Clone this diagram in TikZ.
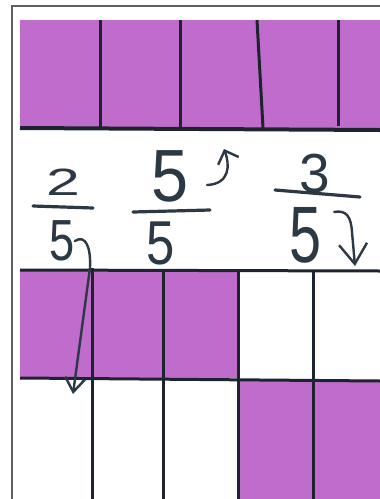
\documentclass[tikz,border=0pt]{standalone}
\usepackage{fontspec}
\setmainfont{Liberation Sans}
\usetikzlibrary{arrows.meta}
\definecolor{pur}{RGB}{192,108,204}
\definecolor{ink}{RGB}{30,36,46}
\definecolor{pen}{RGB}{44,56,68}
\definecolor{framec}{RGB}{95,95,95}
\begin{document}
\begin{tikzpicture}[x=1pt,y=-1pt,
  gridline/.style={draw=ink,line width=3pt},
  digit/.style={inner sep=0pt,text=pen},
  fbar/.style={draw=pen,line width=3.2pt,line cap=round},
  hook/.style={draw=pen,line width=2.4pt,line cap=round,line join=round}]
\useasboundingbox (0,0) rectangle (380,499);
\fill[white] (0,0) rectangle (380,499);
% frame of the sheet
\draw[framec,line width=1.2pt] (12,499) |- (380,6);
% top strip: 5 fifths, all coloured
\fill[pur] (20,20) rectangle (380,128);
\draw[gridline] (100,20) -- (100,128);
\draw[gridline] (180,20) -- (180,128);
\draw[gridline] (257,20) -- (263,128);
\draw[gridline] (338,20) -- (338,126);
\draw[gridline,line width=4pt] (20,128) -- (380,130);
% bottom grid
\fill[pur] (20,271) rectangle (237,378);
\fill[pur] (240,380) rectangle (380,499);
\draw[gridline] (20,270) -- (380,271);
\draw[gridline] (20,378) -- (380,381);
\draw[gridline] (92,268) -- (92,499);
\draw[gridline] (163,270) -- (163,499);
\draw[gridline] (238,272) -- (238,499);
\draw[gridline] (313,272) -- (313,499);
% fractions
\node[digit,font=\fontsize{38}{38}\selectfont] (n1) at (63,182) {\scalebox{1.6}[1]{2}};
\draw[fbar] (33,206) -- (93,208);
\node[digit,font=\fontsize{58}{58}\selectfont] (d1) at (62,241) {\scalebox{0.78}[1]{5}};
\node[digit,font=\fontsize{74}{74}\selectfont] (n2) at (170,176) {\scalebox{0.9}[1]{5}};
\draw[fbar] (133,212) -- (210,210);
\node[digit,font=\fontsize{62}{62}\selectfont] (d2) at (161,243) {\scalebox{0.82}[1]{5}};
\node[digit,font=\fontsize{55}{55}\selectfont] (n3) at (315,174) {3};
\draw[fbar] (275,190) -- (360,197);
\node[digit,font=\fontsize{80}{80}\selectfont] (d3) at (306,235) {\scalebox{0.72}[1]{5}};
% arrows
\coordinate (t1) at (73,394);
\draw[hook,-{Straight Barb[length=14pt,width=20pt,line width=2.4pt]}]
  (d1.east) .. controls (86,234) and (91,248) .. (90,268) -- (t1);
\coordinate (s2) at (207,185);
\coordinate (t2) at (224,149);
\draw[hook,-{Straight Barb[length=11pt,width=22pt,line width=2.4pt]}]
  (s2) .. controls (230,184) and (230,165) .. (t2);
\coordinate (t3) at (355,266);
\draw[hook,-{Straight Barb[length=20pt,width=28pt,line width=2.4pt]}]
  (d3.north east) ++(12,5) .. controls (346,210) and (351,216) .. (352,232) -- (t3);
\end{tikzpicture}
\end{document}
